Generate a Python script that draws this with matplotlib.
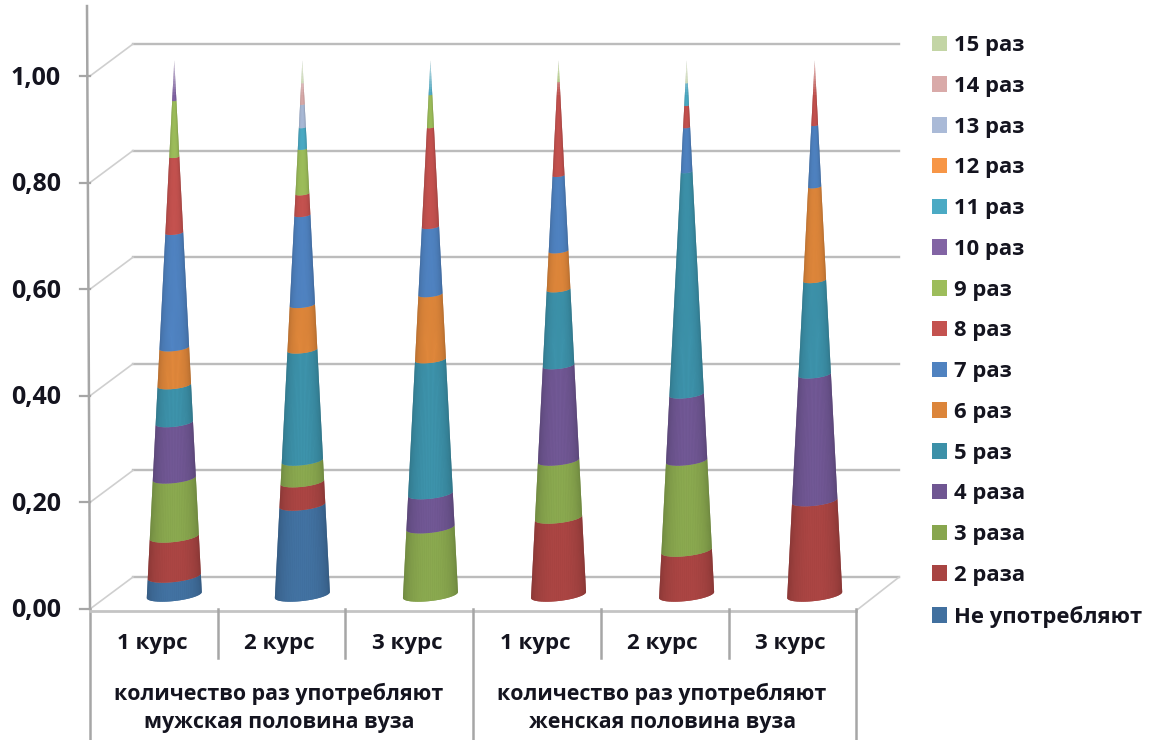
import numpy as np
import matplotlib
matplotlib.use('Agg')
import matplotlib.pyplot as plt
from matplotlib.collections import PolyCollection
from matplotlib.patches import Patch

#shares per course
courses = ['1 курс', '2 курс', '3 курс', '1 курс', '2 курс', '3 курс']
groups = ['количество раз употребляют\nмужская половина вуза',
          'количество раз употребляют\nженская половина вуза']
y_ticks = [0, 0.2, 0.4, 0.6, 0.8, 1.0]

ne = [.035, .168, 0, 0, 0, 0]
r2 = [.074, .043, 0, .144, .083, .176]
r3 = [.109, .040, .126, .107, .168, 0]
r4 = [.104, 0, .063, .178, .124, .236]
r5 = [.070, .207, .251, .142, .416, .176]
r6 = [.070, .084, .122, .072, 0, .175]
r7 = [.215, .168, .126, .141, .083, .115]
r8 = [.142, .040, .186, .175, .041, .122]
r9 = [.105, .084, .061, .041, 0, 0]
r10 = [.076, 0, 0, 0, 0, 0]
r11 = [0, .040, .065, 0, .042, 0]
r12 = [0, 0, 0, 0, 0, 0]
r13 = [0, .043, 0, 0, 0, 0]
r14 = [0, .040, 0, 0, 0, 0]
r15 = [0, .043, 0, 0, .043, 0]

series = [ne, r2, r3, r4, r5, r6, r7, r8, r9, r10, r11, r12, r13, r14, r15]
names = ['Не употребляют', '2 раза', '3 раза', '4 раза', '5 раз', '6 раз', '7 раз',
         '8 раз', '9 раз', '10 раз', '11 раз', '12 раз', '13 раз', '14 раз', '15 раз']
colors = ['#41709f', '#a84442', '#88a64e', '#6f5692', '#3c90a8', '#dc853a', '#4f82c0',
          '#c4524f', '#9dbd5b', '#8264a4', '#4baac4', '#f79646', '#aabad7', '#d9aaa9', '#c3d5a5']

plt.rcParams['font.family'] = 'Open Sans'
plt.rcParams['font.weight'] = 'bold'
text_color = '#14141f'
grid_color = '#bcbcbc'
axis_color = '#a6a6a6'

fig = plt.figure(figsize=(11.51, 7.40), dpi=100)
ax = fig.add_axes([0, 0, 1, 1])
ax.axis('off')

#one category = 127.7 px, 1.0 on the value axis = 533 px
sx = 127.7
sy = 533.0
ax.set_xlim(-90 / sx, (1151 - 90) / sx)
ax.set_ylim((609 - 740) / sy, 609 / sy)

#3d frame, back wall is shifted by depth
dx = 43 / sx
dy = 32 / sy
for v in y_ticks:
    ax.plot([dx, 6 + dx], [v + dy, v + dy], color=grid_color, lw=1.7, zorder=1)
    ax.plot([0, dx], [v, v + dy], color='#cfcfcf', lw=1.2, zorder=1)
    ax.plot([-10 / sx, 0], [v, v], color=axis_color, lw=1.6, zorder=1)
    ax.text(-29 / sx, v - 2 / sy, ('%.2f' % v).replace('.', ','), ha='right', va='center',
            fontsize=18, color=text_color)
ax.plot([6, 6 + dx], [-0.003, dy], color='#cfcfcf', lw=1.2, zorder=1)
ax.plot([-3 / sx, 0], [604 / sy - 0.002, 0], color=axis_color, lw=1.8, zorder=2)
ax.plot([0, 0], [0, -131 / sy], color=axis_color, lw=1.8, zorder=2)
ax.plot([0, 6], [-0.003, -0.003], color='#c4c4c4', lw=2, zorder=2)
for i in range(1, 7):
    low = -131 / sy if i in (3, 6) else -49 / sy
    ax.plot([i, i], [0, low], color=axis_color, lw=1.8, zorder=2)

#category labels
for i, c in enumerate(courses):
    ax.text(i + 0.485, -35 / sy, c, ha='center', va='center', fontsize=16, color=text_color)
for i, g in enumerate(groups):
    ax.text(1.5 + 3 * i - 0.02, -99 / sy, g, ha='center', va='center', fontsize=15.4,
            color=text_color, linespacing=1.46)

#cones, every band cut in narrow strips for the shading
r_base = 27.5 / sx
sag = 6 / sy
tilt = 3 / sy
y_base = 14 / sy
y_scale = 535 / sy
theta = np.linspace(np.pi, 0, 41)
mid = (theta[:-1] + theta[1:]) / 2
shade = 0.68 + 0.34 * np.sin(mid) ** 0.7


def ring(cx, v):
    k = 1 - v
    xs = cx + r_base * k * np.cos(theta)
    ys = y_base + y_scale * v - sag * k * np.sin(theta) + tilt * k * np.cos(theta)
    return xs, ys


data = np.array(series)
cum = np.cumsum(data, axis=0)
for i in range(6):
    cx = i * 1.003 + 0.5 + 0.16
    bottom = 0.0
    for s in range(len(series)):
        top = cum[s, i]
        if data[s, i] > 0:
            x0, y0 = ring(cx, bottom)
            x1, y1 = ring(cx, top)
            base = np.array(matplotlib.colors.to_rgb(colors[s]))
            #solid band under the strips so the seams do not show
            ax.fill(np.r_[x0, x1[::-1]], np.r_[y0, y1[::-1]], color=base * 0.95, lw=0, zorder=3)
            polys = []
            for j in range(len(mid)):
                polys.append([(x0[j], y0[j]), (x0[j + 1], y0[j + 1]),
                              (x1[j + 1], y1[j + 1]), (x1[j], y1[j])])
            cols = [np.clip(base * f, 0, 1) for f in shade]
            ax.add_collection(PolyCollection(polys, facecolors=cols, edgecolors='none',
                                             linewidths=0, zorder=4))
        bottom = top
    #the very tip of the cone fades out
    levels = np.linspace(0.93, 1.0, 15)
    for a, b in zip(levels[:-1], levels[1:]):
        w = r_base * (1 - a) + 2 / sx
        ya = y_base + y_scale * a
        yb = y_base + y_scale * b
        ax.fill([cx - w, cx + w, cx + w, cx - w], [ya, ya, yb, yb], color='white',
                alpha=(a - 0.93) / 0.07 * 0.75, lw=0, zorder=5)

#legend
handles = [Patch(facecolor=colors[s], label=names[s]) for s in range(len(names))][::-1]
fig.legend(handles=handles, loc='upper left', bbox_to_anchor=(925 / 1151, 1 - 28.5 / 740),
           frameon=False, fontsize=15.8, labelcolor=text_color, handlelength=0.72, handleheight=0.72,
           handletextpad=0.28, labelspacing=0.90, borderpad=0.3, borderaxespad=0)

fig.savefig('out.png', dpi=100)
